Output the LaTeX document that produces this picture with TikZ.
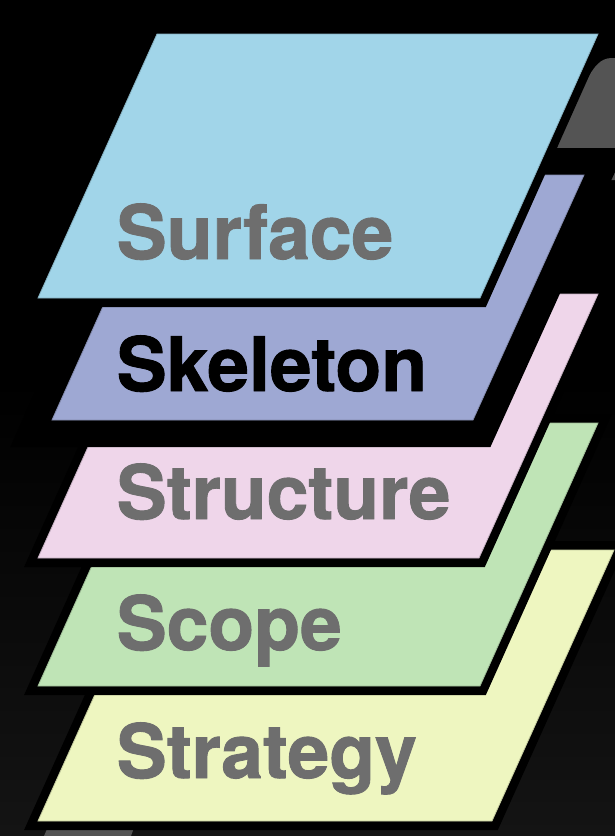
\documentclass[tikz,border=0pt]{standalone}
\usepackage{fontspec}
\setmainfont{TeX Gyre Heros}
\newfontfamily\lblfont[FakeBold=1.2]{TeX Gyre Heros Bold}
\definecolor{cSurface}{HTML}{A1D5E9}
\definecolor{cSkeleton}{HTML}{9EA8D3}
\definecolor{cStructure}{HTML}{EFD6EA}
\definecolor{cScope}{HTML}{BFE4B6}
\definecolor{cStrategy}{HTML}{EEF6C0}
\definecolor{cText}{HTML}{6E6E6E}
\definecolor{cBgLow}{HTML}{141414}
\definecolor{cGrayObj}{HTML}{545454}
\tikzset{
  plate/.style={draw=black, line width=18pt, line join=miter},
  bigplate/.style={draw=black, line width=54pt, line join=miter},
  layerfill/.style={fill=#1, draw=#1!82!black, line width=0.8pt},
  lbl/.style={anchor=base west, inner sep=0pt, text=cText,
    font=\fontsize{75}{80}\lblfont},
}
\begin{document}
\begin{tikzpicture}[x=1pt,y=-1pt]
\useasboundingbox (0,0) rectangle (615,836);
% background
\fill[black] (0,0) rectangle (615,836);
\shade[top color=black, bottom color=cBgLow] (0,380) rectangle (615,836);
% partially hidden gray objects
\fill[cGrayObj] (545,180) -- (575,100) -- (582,88) .. controls (594,66) and (600,58) .. (612,58) -- (615,58) -- (615,180) -- cycle;
\fill[cGrayObj] (50,822) -- (136,822) -- (131,836) -- (44,836) -- cycle;
% Strategy
\path[plate] (160,550) -- (614,550) -- (492,821) -- (38,821) -- cycle;
\path[layerfill=cStrategy] (160,550) -- (614,550) -- (492,821) -- (38,821) -- cycle;
\node[lbl] (strategy) at (116.5,778) {Strategy};
% Scope
\path[plate] (156,423) -- (598,423) -- (480,686) -- (38,686) -- cycle;
\path[layerfill=cScope] (156,423) -- (598,423) -- (480,686) -- (38,686) -- cycle;
\node[lbl] (scope) at (116.5,650) {Scope};
% Structure
\path[plate] (157,294) -- (598,294) -- (479,558) -- (38,558) -- cycle;
\path[layerfill=cStructure] (157,294) -- (598,294) -- (479,558) -- (38,558) -- cycle;
\node[lbl] (structure) at (116.5,519) {Structure};
% Skeleton
\path[bigplate] (162,175) -- (584,175) -- (473,420) -- (52,420) -- cycle;
\path[layerfill=cSkeleton] (162,175) -- (584,175) -- (473,420) -- (52,420) -- cycle;
\node[lbl, text=black] (skeleton) at (116.5,391) {Skeleton};
% Surface
\path[plate] (157,34) -- (598,34) -- (480,298) -- (38,298) -- cycle;
\path[layerfill=cSurface] (157,34) -- (598,34) -- (480,298) -- (38,298) -- cycle;
\node[lbl] (surface) at (116.5,259) {Surface};
\end{tikzpicture}
\end{document}
